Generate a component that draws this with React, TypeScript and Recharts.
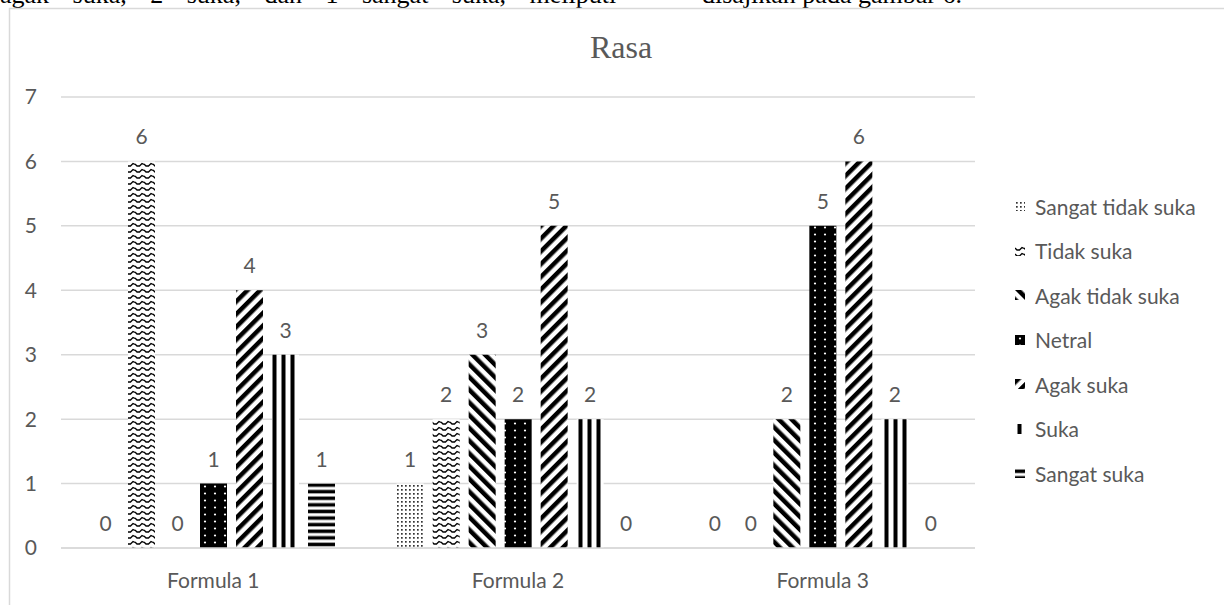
import { BarChart, Bar, XAxis, YAxis, CartesianGrid, Legend, LabelList } from 'recharts';

const CATEGORIES = ['Formula 1', 'Formula 2', 'Formula 3'];
const SERIES = ['Sangat tidak suka', 'Tidak suka', 'Agak tidak suka', 'Netral', 'Agak suka', 'Suka', 'Sangat suka'];
const SANGAT_TIDAK_SUKA = [0, 1, 0];
const TIDAK_SUKA = [6, 2, 0];
const AGAK_TIDAK_SUKA = [0, 3, 2];
const NETRAL = [1, 2, 5];
const AGAK_SUKA = [4, 5, 6];
const SUKA = [3, 2, 2];
const SANGAT_SUKA = [1, 0, 0];
const Y_TICKS = [0, 1, 2, 3, 4, 5, 6, 7];

const VALUES = [SANGAT_TIDAK_SUKA, TIDAK_SUKA, AGAK_TIDAK_SUKA, NETRAL, AGAK_SUKA, SUKA, SANGAT_SUKA];
const PATTERNS = ['p-dots', 'p-wave', 'p-down', 'p-netral', 'p-up', 'p-vert', 'p-horiz'];

const data = CATEGORIES.map((name, i) => {
    const row: any = { name };
    SERIES.forEach((s, j) => { row[s] = VALUES[j][i]; });
    return row;
});

const GREY = '#595959';
const FONT = 'Lato, "Open Sans", sans-serif';

function Patterns() {
    return (
        <svg width="0" height="0" style={{ position: 'absolute' }}>
            <defs>
                <pattern id="p-dots" width="4" height="4" patternUnits="userSpaceOnUse">
                    <rect width="4" height="4" fill="#fff" />
                    <rect x="1" y="1" width="1.7" height="1.7" fill="#333" />
                </pattern>
                <pattern id="p-wave" width="9" height="6" patternUnits="userSpaceOnUse">
                    <rect width="9" height="6" fill="#fff" />
                    <path d="M0,2 L2,4 L4.5,4 L7,1.5 L9,2.5" stroke="#000" strokeWidth="1.3" fill="none" />
                </pattern>
                <pattern id="p-down" width="9" height="9" patternUnits="userSpaceOnUse" patternTransform="rotate(-45)">
                    <rect width="9" height="9" fill="#fff" />
                    <rect width="4.5" height="9" fill="#000" />
                </pattern>
                <pattern id="p-up" width="9" height="9" patternUnits="userSpaceOnUse" patternTransform="rotate(45)">
                    <rect width="9" height="9" fill="#fff" />
                    <rect width="4.5" height="9" fill="#000" />
                </pattern>
                <pattern id="p-netral" width="10" height="7" patternUnits="userSpaceOnUse">
                    <rect width="10" height="7" fill="#000" />
                    <circle cx="5" cy="3.5" r="1.1" fill="#fff" />
                </pattern>
                <pattern id="p-vert" width="9" height="9" patternUnits="userSpaceOnUse">
                    <rect width="9" height="9" fill="#fff" />
                    <rect x="2.5" width="4" height="9" fill="#000" />
                </pattern>
                <pattern id="p-horiz" width="9" height="6.6" patternUnits="userSpaceOnUse">
                    <rect width="9" height="6.6" fill="#fff" />
                    <rect y="1.5" width="9" height="3.5" fill="#000" />
                </pattern>
            </defs>
        </svg>
    );
}

function LegendList() {
    return (
        <div style={{ fontFamily: FONT, fontSize: 21, color: GREY }}>
            {SERIES.map((s, j) => (
                <div key={s} style={{ height: 44.5, display: 'flex', alignItems: 'center' }}>
                    <svg width="10" height="10" style={{ marginRight: 10 }}>
                        <rect width="10" height="10" fill={`url(#${PATTERNS[j]})`} />
                    </svg>
                    <span>{s}</span>
                </div>
            ))}
        </div>
    );
}

// value labels drawn by hand so that the zero bars get one too
const renderValue = (props: any) => {
    const { x, y, width, value } = props;
    if (value === undefined || value === null) return null;
    return (
        <text x={Number(x) + Number(width) / 2} y={Number(y) - 17} textAnchor="middle" fill={GREY} fontSize={21} fontFamily={FONT}>
            {value}
        </text>
    );
};

export default function App() {
    return (
        <div style={{ position: 'absolute', left: 0, top: 0, width: 1224, height: 605, overflow: 'hidden', background: '#fff' }}>
            <Patterns />
            <svg width="1224" height="605" style={{ position: 'absolute', left: 0, top: 0 }}>
                <text x="0" y="3" fontFamily='"Liberation Serif", serif' fontSize="26" fill="#000" wordSpacing="17">
                    agak suka, 2 suka, dan 1 sangat suka, meliputi
                </text>
                <text x="702" y="3" fontFamily='"Liberation Serif", serif' fontSize="26" fill="#000">
                    disajikan pada gambar 6.
                </text>
                <rect x="9.5" y="8.5" width="1240" height="620" fill="none" stroke="#d9d9d9" strokeWidth="1.5" />
                <text x="621" y="58" textAnchor="middle" fontFamily='"Liberation Serif", serif' fontSize="32" fill={GREY}>Rasa</text>
            </svg>
            <div style={{ position: 'absolute', left: 0, top: 0 }}>
                <BarChart width={1224} height={605} data={data} margin={{ top: 97, right: 249, bottom: 17, left: 0 }} barSize={27} barGap={9}>
                    <CartesianGrid vertical={false} stroke="#d9d9d9" strokeWidth={1.5} />
                    <XAxis dataKey="name" height={40} tickLine={false} axisLine={{ stroke: '#d9d9d9', strokeWidth: 1.5 }} tickMargin={19}
                        tick={{ fill: GREY, fontSize: 21, fontFamily: FONT }} />
                    <YAxis width={61} domain={[0, 7]} ticks={Y_TICKS} interval={0} tickLine={false} axisLine={false} tickMargin={18}
                        tick={{ fill: GREY, fontSize: 21, fontFamily: FONT }} />
                    <Legend layout="vertical" verticalAlign="middle" align="center" wrapperStyle={{ left: 1015, top: 184, width: 210 }} content={() => <LegendList />} />
                    {SERIES.map((s, j) => (
                        <Bar key={s} dataKey={s} fill={`url(#${PATTERNS[j]})`} minPointSize={0.01} isAnimationActive={false}>
                            <LabelList dataKey={s} content={renderValue} />
                        </Bar>
                    ))}
                </BarChart>
            </div>
        </div>
    );
}
